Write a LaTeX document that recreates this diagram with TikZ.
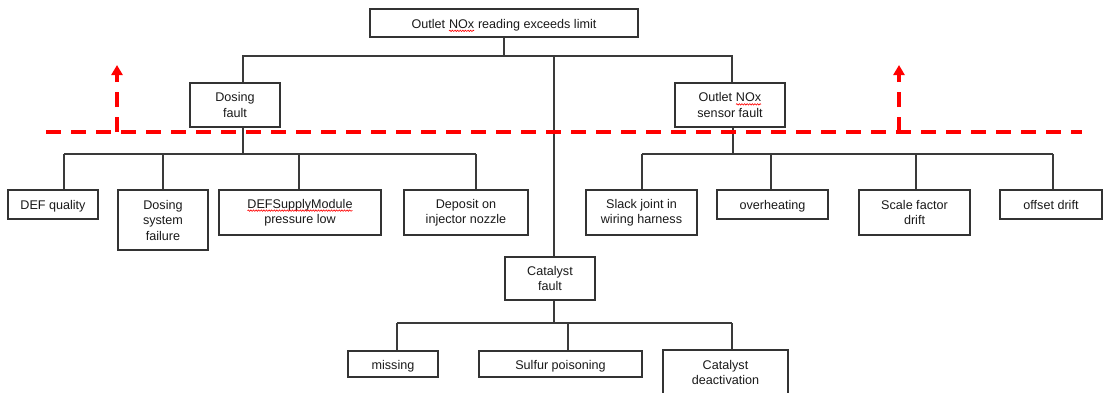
\documentclass[tikz,border=0pt]{standalone}
\usepackage{fontspec}
\setmainfont{Liberation Sans}
\usetikzlibrary{arrows.meta,decorations.pathmorphing}

\definecolor{ink}{HTML}{1A1A1A}
\definecolor{boxline}{HTML}{333333}
\definecolor{wire}{HTML}{3A3A3A}
\definecolor{cutred}{HTML}{FF0000}

% word with a red wavy spell-check underline
\newcommand\spellmark[1]{\tikz[baseline=(spellw.base)]{%
  \node[inner sep=0pt,outer sep=0pt,minimum width=0pt,minimum height=0pt,
        draw=none,fill=none] (spellw) {#1};
  \draw[draw=red,line width=0.6pt,decorate,decoration={snake,amplitude=0.7pt,segment length=2.6pt}]
    ([yshift=-2.6pt]spellw.base west) -- ([yshift=-2.6pt]spellw.base east);}}

\begin{document}
\begin{tikzpicture}[x=1pt,y=-1pt,
  every node/.style={font=\fontsize{12.6}{15.5}\selectfont, text=ink},
  box/.style={draw=boxline, line width=1.1pt, fill=white, inner sep=0pt, align=center},
  oneline/.style={text height=10.5pt, text depth=0pt},
  sz/.style 2 args={minimum width=#1pt, minimum height=#2pt},
  link/.style={draw=wire, line width=1.2pt},
  cutline/.style={draw=cutred, line width=3.6pt, dash pattern=on 15pt off 10pt},
]
\useasboundingbox[fill=white] (0,0) rectangle (1103,392);

% boxes
\node[box,oneline,sz={268}{28}] (top) at (504,23) {Outlet \spellmark{NOx} reading exceeds limit};
\node[box,sz={90}{44}]  (dos) at (235,105) {Dosing\\fault};
\node[box,sz={110}{44}] (sen) at (730,105) {Outlet \spellmark{NOx}\\sensor fault};
\node[box,oneline,sz={90}{29}]  (defq) at (53,204.5) {DEF quality};
\node[box,sz={90}{60}]  (dsf) at (163,220) {Dosing\\system\\failure};
\node[box,sz={162}{45}] (dsm) at (300,212.5) {\spellmark{DEFSupplyModule}\\pressure low};
\node[box,sz={124}{45}] (dep) at (466,212.5) {Deposit on\\injector nozzle};
\node[box,sz={111}{45}] (sla) at (641.5,212.5) {Slack joint in\\wiring harness};
\node[box,oneline,sz={111}{29}] (ovh) at (772.5,204.5) {overheating};
\node[box,sz={111}{45}] (scf) at (914.5,212.5) {Scale factor\\drift};
\node[box,oneline,sz={102}{29}] (ofd) at (1051,204.5) {offset drift};
\node[box,sz={90}{43}]  (cat) at (550,278.5) {Catalyst\\fault};
\node[box,oneline,sz={90}{26}]  (mis) at (393,364) {missing};
\node[box,oneline,sz={163}{26}] (sul) at (560.5,364) {Sulfur poisoning};
\node[box,sz={125}{45}] (cde) at (725.5,372.5) {Catalyst\\deactivation};

% first level
\coordinate (r0) at (504,56);
\coordinate (rd) at (243,56);
\coordinate (rs) at (732,56);
\coordinate (rc) at (554,56);
\draw[link] (top.south -| r0) -- (r0);
\draw[link] (dos.north -| rd) -- (rd) -- (rs) -- (sen.north -| rs);
\draw[link] (rc) -- (cat.north -| rc);

% dosing fault branch
\coordinate (dd) at (243,154);
\coordinate (d1) at (64,154);
\coordinate (d2) at (163,154);
\coordinate (d3) at (299,154);
\coordinate (d4) at (476,154);
\draw[link] (dos.south -| dd) -- (dd);
\draw[link] (d1) -- (d4);
\draw[link] (d1) -- (defq.north -| d1);
\draw[link] (d2) -- (dsf.north -| d2);
\draw[link] (d3) -- (dsm.north -| d3);
\draw[link] (d4) -- (dep.north -| d4);

% sensor fault branch
\coordinate (sd) at (733,154);
\coordinate (s1) at (642,154);
\coordinate (s2) at (771,154);
\coordinate (s3) at (916,154);
\coordinate (s4) at (1053,154);
\draw[link] (sen.south -| sd) -- (sd);
\draw[link] (s1) -- (s4);
\draw[link] (s1) -- (sla.north -| s1);
\draw[link] (s2) -- (ovh.north -| s2);
\draw[link] (s3) -- (scf.north -| s3);
\draw[link] (s4) -- (ofd.north -| s4);

% catalyst fault branch
\coordinate (cd) at (554,323);
\coordinate (c1) at (397,323);
\coordinate (c2) at (568,323);
\coordinate (c3) at (732,323);
\draw[link] (cat.south -| cd) -- (cd);
\draw[link] (c1) -- (c3);
\draw[link] (c1) -- (mis.north -| c1);
\draw[link] (c2) -- (sul.north -| c2);
\draw[link] (c3) -- (cde.north -| c3);

% red cut line with upward arrows
\coordinate (cutL) at (46,132);
\coordinate (cutR) at (1082,132);
\coordinate (baseL) at (117,132);
\coordinate (upL) at (117,65);
\coordinate (baseR) at (899,132);
\coordinate (upR) at (899,65);
\draw[cutline] (cutL) -- (cutR);
\draw[cutline,-{Triangle[length=10pt,width=11pt]}] (baseL) -- (upL);
\draw[cutline,-{Triangle[length=10pt,width=11pt]}] (baseR) -- (upR);
\end{tikzpicture}
\end{document}
